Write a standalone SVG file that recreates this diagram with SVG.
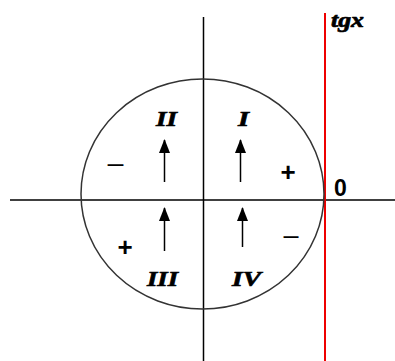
<svg xmlns="http://www.w3.org/2000/svg" width="395" height="361" viewBox="0 0 395 361">
<style>
.ax{stroke:#000;stroke-width:1.5;fill:none}
.circ{stroke:#333;stroke-width:1.5;fill:none}
.red{stroke:#e00;stroke-width:2;fill:none}
.arr{stroke:#000;stroke-width:1.5;fill:none;marker-end:url(#ah)}
.q{font-family:"Liberation Serif",serif;font-style:italic;font-weight:bold;font-size:22px;fill:#000;stroke:#000;stroke-width:0.7}
.s{font-family:"Liberation Sans",sans-serif;font-weight:bold;font-size:26px;fill:#000;text-anchor:middle}
.m{font-family:"Liberation Sans",sans-serif;font-size:26px;fill:#000}
.z{font-family:"Liberation Sans",sans-serif;font-weight:bold;font-size:23px;fill:#000}
</style>
<defs>
<marker id="ah" markerWidth="14" markerHeight="12" refX="13" refY="6" orient="auto" markerUnits="userSpaceOnUse" viewBox="0 0 14 12">
<path d="M14,6 L0,0.5 L0,11.5 Z" fill="#000"/>
</marker>
</defs>
<rect width="395" height="361" fill="#fff"/>
<g id="connectors">
<line class="ax" x1="10" y1="200" x2="395" y2="200"/>
<line class="ax" x1="203.5" y1="17" x2="203.5" y2="361"/>
<line class="red" x1="325" y1="13" x2="325" y2="361"/>
<line class="arr" x1="164.5" y1="182" x2="164.5" y2="140"/>
<line class="arr" x1="240.5" y1="182" x2="240.5" y2="140"/>
<line class="arr" x1="164.5" y1="251" x2="164.5" y2="208"/>
<line class="arr" x1="242.5" y1="247" x2="242.5" y2="208"/>
</g>
<g id="circle"><ellipse class="circ" cx="202.5" cy="194" rx="121.5" ry="115"/></g>
<g id="q2"><text class="q" x="156" y="126" textLength="21" lengthAdjust="spacingAndGlyphs">II</text></g>
<g id="q1"><text class="q" x="238" y="126" textLength="11" lengthAdjust="spacingAndGlyphs">I</text></g>
<g id="q3"><text class="q" x="147" y="286" textLength="31" lengthAdjust="spacingAndGlyphs">III</text></g>
<g id="q4"><text class="q" x="232" y="286" textLength="29" lengthAdjust="spacingAndGlyphs">IV</text></g>
<g id="signs">
<text class="m" x="106" y="174" textLength="19" lengthAdjust="spacingAndGlyphs">−</text>
<text class="s" x="288" y="181">+</text>
<text class="s" x="125" y="256">+</text>
<text class="m" x="282" y="246" textLength="18" lengthAdjust="spacingAndGlyphs">−</text>
</g>
<g id="zero"><text class="z" x="334" y="196">0</text></g>
<g id="tgx"><text class="q" x="331" y="27" textLength="33" lengthAdjust="spacingAndGlyphs">tgx</text></g>
</svg>
